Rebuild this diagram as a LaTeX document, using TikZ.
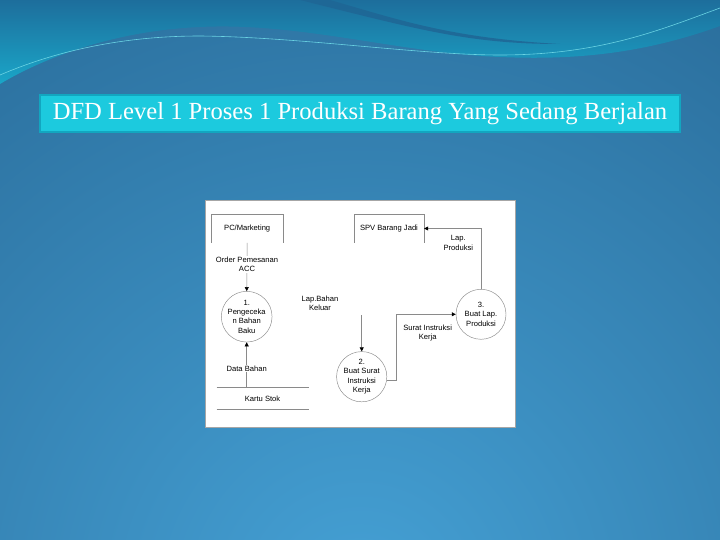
\documentclass[tikz,border=0pt]{standalone}
\usepackage{fontspec}
\setmainfont{Liberation Serif}
\newfontfamily\diafont{Liberation Sans}
\usetikzlibrary{arrows.meta}
\definecolor{bgbase}{HTML}{2A6D9B}
\definecolor{bglight}{HTML}{45A1D5}
\definecolor{wavetop}{HTML}{1D6E9C}
\definecolor{wavelow}{HTML}{1AA6C8}
\definecolor{streak}{HTML}{1F6695}
\definecolor{highlight}{HTML}{6AD3E3}
\definecolor{titlefill}{HTML}{1CCADE}
\definecolor{titleborder}{HTML}{12A6C0}
\definecolor{dline}{HTML}{8A8A8A}
\tikzset{
  dfont/.style={font=\diafont\fontsize{7.6}{9.4}\selectfont},
  proc/.style={circle, draw=dline, line width=0.45pt, minimum size=50pt, inner sep=0pt, align=center, dfont},
  ent/.style={minimum width=71pt, minimum height=28.4pt, inner sep=0pt, dfont},
  entline/.style={draw=dline, line width=0.5pt},
  store/.style={minimum width=91.6pt, minimum height=21.3pt, inner sep=0pt, dfont},
  flow/.style={draw=dline, line width=0.5pt, -{Triangle[length=4pt,width=4pt,color=black]}},
  lbl/.style={fill=white, inner sep=1pt, align=center, dfont}
}
\begin{document}
\begin{tikzpicture}[x=1pt,y=-1pt]
\useasboundingbox (0,0) rectangle (720,540);
% background
\fill[bgbase] (0,0) rectangle (720,540);
\begin{scope}
\clip (0,0) rectangle (720,540);
\shade[inner color=bglight, outer color=bgbase] (360,600) circle (720);
\end{scope}
% top wave
\shade[top color=wavetop, bottom color=wavelow]
  (0,0) -- (720,0) -- (720,26)
  .. controls (640,55) and (570,60) .. (500,57)
  .. controls (400,53) and (300,22) .. (200,27)
  .. controls (110,31) and (40,60) .. (0,84) -- cycle;
\fill[streak, opacity=0.85] (330,0) .. controls (400,20) and (450,38) .. (560,44)
  .. controls (470,44) and (420,30) .. (300,0) -- cycle;
\draw[highlight, line width=0.6pt] (0,75) .. controls (70,45) and (140,36) .. (200,36)
  .. controls (300,37) and (420,55) .. (500,55)
  .. controls (600,55) and (660,30) .. (720,8);
% title
\node[draw=titleborder, line width=1.5pt, fill=titlefill, minimum width=640pt, minimum height=37pt, inner sep=0pt,
  text=white, font=\fontsize{24.6}{28}\selectfont] (title) at (360,113.5)
  {DFD Level 1 Proses 1 Produksi Barang Yang Sedang Berjalan};
% diagram panel
\node[fill=white, draw=gray!70, line width=0.5pt, minimum width=310pt, minimum height=227pt, inner sep=0pt] (panel) at (360,313.5) {};
% entities
\node[ent] (pc) at (247.2,228.5) {PC/Marketing};
\draw[entline] (pc.south west) -- (pc.north west) -- (pc.north east) -- (pc.south east);
\node[ent, minimum width=70pt] (spv) at (389,228.5) {SPV Barang Jadi};
\draw[entline] (spv.south west) -- (spv.north west) -- (spv.north east) -- (spv.south east);
% processes
\node[proc] (p1) at (246.7,316.7) {1.\\Pengeceka\\n Bahan\\Baku};
\node[proc, minimum size=48pt] (p2) at (361.7,376.7) {2.\\Buat Surat\\Instruksi\\Kerja};
\node[proc] (p3) at (481,314.3) {3.\\Buat Lap.\\Produksi};
% data store
\node[store] (ks) at (262.5,398.3) {Kartu Stok};
\draw[entline] (ks.north west) -- (ks.north east);
\draw[entline] (ks.south west) -- (ks.south east);
% flows
\draw[flow] (pc.south) -- (p1.north) node[lbl, pos=0.44] {Order Pemesanan\\ACC};
\draw[flow] (ks.north -| p1.center) -- (p1.south) node[lbl, pos=0.42] {Data Bahan};
\coordinate (lbk) at (361.7,315);
\draw[flow] (lbk) -- (p2.north);
\node[lbl] (lbkl) at (320,303.5) {Lap.Bahan\\Keluar};
\coordinate (bend) at (396.7,314.3);
\draw[flow] (p2.-9) -| (bend) -- (p3.west);
\node[lbl] (sik) at (427.7,333) {Surat Instruksi\\Kerja};
\draw[flow] (p3.north) |- (spv.east);
\node[lbl] (lp) at (458.3,243) {Lap.\\Produksi};
\end{tikzpicture}
\end{document}
